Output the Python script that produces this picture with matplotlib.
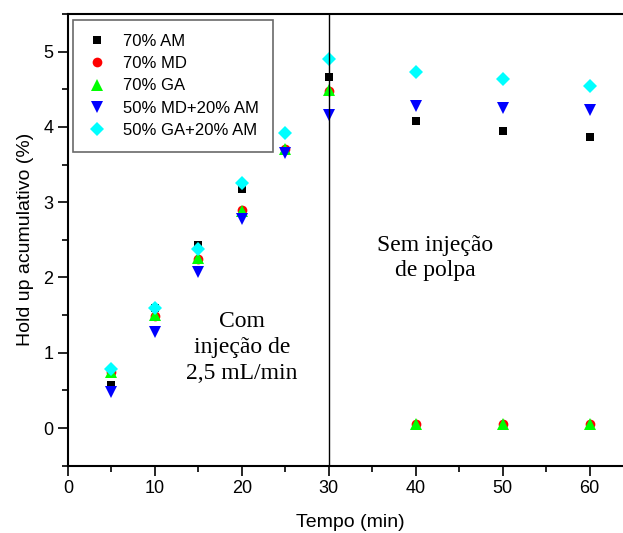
import numpy as np
import matplotlib
matplotlib.use("Agg")
import matplotlib.pyplot as plt

plt.rcParams["font.family"] = ["Liberation Sans", "DejaVu Sans"]

tempo = [5, 10, 15, 20, 25, 30, 40, 50, 60]
am_70 = [0.57, 1.60, 2.43, 3.18, 3.68, 4.66, 4.08, 3.95, 3.87]
md_70 = [0.74, 1.49, 2.25, 2.89, 3.71, 4.48, 0.05, 0.05, 0.05]
ga_70 = [0.75, 1.50, 2.26, 2.88, 3.71, 4.49, 0.06, 0.06, 0.06]
md50_am20 = [0.48, 1.27, 2.07, 2.78, 3.66, 4.16, 4.28, 4.25, 4.22]
ga50_am20 = [0.79, 1.60, 2.38, 3.25, 3.92, 4.90, 4.73, 4.63, 4.54]

series = [
    ("70% AM", am_70, "s", "black", 6),
    ("70% MD", md_70, "o", "red", 7),
    ("70% GA", ga_70, "^", "#00ff00", 8.5),
    ("50% MD+20% AM", md50_am20, "v", "blue", 8.5),
    ("50% GA+20% AM", ga50_am20, "D", "cyan", 7),
]

fig = plt.figure(figsize=(6.23, 5.33), dpi=100)
ax = fig.add_axes([68 / 623, 1 - 465.7 / 533, 565 / 623, 451.7 / 533])

for label, vals, mk, col, ms in series:
    ax.plot(tempo, vals, linestyle="none", marker=mk, color=col,
            markersize=ms, markeredgewidth=0, label=label)

ax.axvline(30, color="black", linewidth=1)

ax.set_xlim(0, 65)
ax.set_ylim(-0.5, 5.5)
ax.set_xticks([0, 10, 20, 30, 40, 50, 60])
ax.set_xticks(np.arange(5, 65, 10), minor=True)
ax.set_yticks([0, 1, 2, 3, 4, 5])
ax.set_yticks(np.arange(-0.5, 5.6, 1), minor=True)
ax.tick_params(which="major", direction="out", length=7, width=1.2, labelsize=13)
ax.tick_params(which="minor", direction="out", length=4, width=1.2)
for sp in ax.spines.values():
    sp.set_linewidth(1.5)

ax.set_xlabel("Tempo (min)", fontsize=14, labelpad=12)
ax.set_ylabel("Hold up acumulativo (%)", fontsize=14, labelpad=7)

serif = ["Liberation Serif", "DejaVu Serif"]
ax.text(20.0, 1.07, "Com\ninjeção de\n2,5 mL/min", family=serif, fontsize=17,
        ha="center", va="center", linespacing=1.3)
ax.text(42.2, 2.26, "Sem injeção\nde polpa", family=serif, fontsize=17,
        ha="center", va="center", linespacing=1.3)

leg = ax.legend(loc="upper left", bbox_to_anchor=(0.009, 0.987), fontsize=12,
                fancybox=False, frameon=True, borderaxespad=0,
                handletextpad=1.04, borderpad=0.85, labelspacing=0.43,
                handlelength=1.12)
leg.get_frame().set_edgecolor("#444444")
leg.get_frame().set_linewidth(1.2)

fig.savefig("out.png", dpi=100)
